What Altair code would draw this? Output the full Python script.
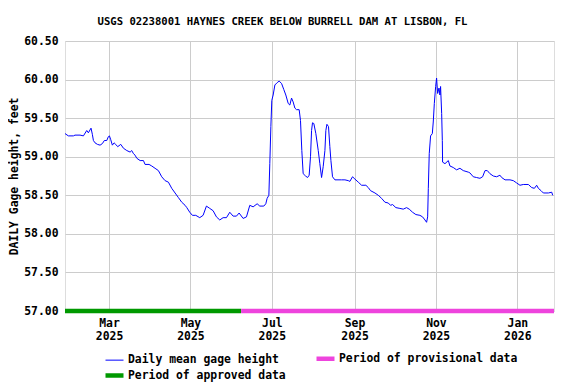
import altair as alt
import pandas as pd

TITLE = "USGS 02238001 HAYNES CREEK BELOW BURRELL DAM AT LISBON, FL"
Y_TITLE = "DAILY Gage height, feet"
START = "2025-01-27"

# days after 2025-01-27 and daily mean gage height (ft)
days = [0, 2.5, 6.3, 7.5, 11.3, 13.8, 16.3, 17.5, 19.5, 20.5, 21.3, 22.5, 24.3, 26.3, 28,
        29.5, 31.3, 32.5, 33.3, 34.3, 35.5, 36.8, 38, 39.5, 41.8, 43.8, 46.3, 48.8, 50, 51.3,
        52.5, 53.8, 56.3, 58.8, 60, 63, 65, 67.5, 70, 72.5, 75, 77.5, 80, 82.5, 85, 87.5, 90,
        91.3, 93.5, 95.5, 98, 101, 103.5, 106, 108.5, 111, 113.5, 116, 118.5, 121, 123.5, 126,
        128.5, 130.5, 133.5, 136, 138.5, 141, 144, 146, 149, 150.5, 151.5, 152.8, 153.5, 154.3,
        155, 156, 157.3, 159, 160.5, 162.3, 164, 165.5, 167.3, 168.5, 169.8, 171, 172.3, 173.5,
        175.5, 176.5, 177.5, 178.5, 180.3, 181.8, 183, 184, 184.8, 185.5, 186.5, 188, 189.8,
        191, 192.3, 193.5, 194.8, 195.5, 196.3, 197.5, 198.5, 199.3, 200.5, 202.3, 207.3,
        209.8, 212.3, 213.5, 215.5, 217.3, 219.8, 222.3, 225.5, 227.3, 229, 232.3, 234.8,
        237.3, 239.8, 242.3, 244, 245.5, 248, 251, 253.5, 256, 258, 260.5, 263, 266, 268,
        269.8, 271, 271.8, 272.3, 273, 274, 275.3, 276, 276.8, 277.8, 278.5, 279.3, 280.3,
        281, 281.5, 282.3, 282.8, 283, 284.8, 287.3, 288.5, 291, 293.5, 296, 298.5, 302.3,
        303.5, 306, 308.5, 311, 313, 314.8, 316.5, 318.5, 321, 323.5, 326, 327.3, 329.8,
        333.5, 336, 338.5, 341, 343.5, 347.3, 349.8, 351.8, 353.5, 354.8, 356.8, 358.5,
        362.3, 364.8, 365.5]
heights = [59.30, 59.27, 59.27, 59.28, 59.28, 59.27, 59.34, 59.31, 59.37, 59.29, 59.21, 59.18,
           59.16, 59.15, 59.17, 59.21, 59.21, 59.26, 59.27, 59.22, 59.15, 59.18, 59.16, 59.13,
           59.16, 59.11, 59.08, 59.06, 59.08, 59.04, 59.02, 58.98, 58.95, 58.95, 58.90, 58.90,
           58.88, 58.85, 58.82, 58.74, 58.69, 58.67, 58.59, 58.53, 58.47, 58.41, 58.37, 58.34,
           58.28, 58.24, 58.24, 58.21, 58.24, 58.36, 58.33, 58.30, 58.22, 58.18, 58.21, 58.21,
           58.28, 58.23, 58.23, 58.27, 58.20, 58.22, 58.37, 58.35, 58.39, 58.36, 58.36, 58.39,
           58.46, 58.50, 58.91, 59.39, 59.73, 59.80, 59.93, 59.96, 59.98, 59.95, 59.87, 59.80,
           59.69, 59.67, 59.76, 59.71, 59.63, 59.61, 59.61, 59.47, 59.08, 58.78, 58.75, 58.73,
           58.76, 59.00, 59.34, 59.44, 59.43, 59.30, 59.08, 58.91, 58.73, 58.87, 59.08, 59.34,
           59.42, 59.39, 59.13, 58.95, 58.74, 58.70, 58.70, 58.70, 58.69, 58.68, 58.74, 58.71,
           58.67, 58.63, 58.63, 58.60, 58.56, 58.53, 58.50, 58.46, 58.41, 58.40, 58.37, 58.38,
           58.34, 58.33, 58.32, 58.34, 58.32, 58.28, 58.25, 58.24, 58.22, 58.18, 58.15, 58.22,
           58.59, 59.04, 59.27, 59.30, 59.45, 59.69, 59.91, 60.02, 59.82, 59.89, 59.80, 59.91,
           59.56, 59.21, 58.93, 58.91, 58.95, 58.88, 58.86, 58.83, 58.85, 58.82, 58.80, 58.79,
           58.74, 58.73, 58.72, 58.74, 58.82, 58.82, 58.78, 58.75, 58.74, 58.76, 58.73, 58.70,
           58.70, 58.69, 58.66, 58.63, 58.64, 58.64, 58.60, 58.59, 58.63, 58.59, 58.56, 58.53,
           58.53, 58.54, 58.50]

# legend entries (filled column by column)
SERIES = ["Daily mean gage height", "Period of approved data", "Period of provisional data"]
COLORS = ["#0000FF", "#009900", "#EE44DD"]
WIDTHS = [1, 4.5, 4.5]

period_names = ["Period of approved data", "Period of provisional data"]
period_start = ["2025-01-27T00:00:00", "2025-06-08T00:00:00"]
period_end = ["2025-06-08T00:00:00", "2026-01-28T12:00:00"]

x_ticks = ["2025-03-01", "2025-05-01", "2025-07-01", "2025-09-01", "2025-11-01", "2026-01-01"]
y_ticks = [57.0, 57.5, 58.0, 58.5, 59.0, 59.5, 60.0, 60.5]

FONT = "DejaVu Sans Mono"

line_df = pd.DataFrame({
    "date": pd.Timestamp(START) + pd.to_timedelta(days, unit="D"),
    "height": heights,
    "series": SERIES[0],
})
period_df = pd.DataFrame({
    "start": pd.to_datetime(period_start, format="ISO8601"),
    "end": pd.to_datetime(period_end, format="ISO8601"),
    "series": period_names,
})


def dt(s):
    t = pd.Timestamp(s)
    return alt.DateTime(year=t.year, month=t.month, date=t.day, hours=t.hour)


x_scale = alt.Scale(domain=[dt("2025-01-27"), dt("2026-01-28T12:00:00")])
y_scale = alt.Scale(domain=[57.0, 60.5], nice=False, zero=False)

color = alt.Color(
    "series:N",
    scale=alt.Scale(domain=SERIES, range=COLORS),
    legend=alt.Legend(
        title=None, orient="none", legendX=43, legendY=311, columns=2,
        symbolType="M-2.25,0H2.25", symbolSize=64, labelFont=FONT, labelFontSize=11.4,
        labelFontWeight="bold", labelColor="black", labelOffset=7, columnPadding=21,
        rowPadding=-2, padding=0, labelLimit=400,
    ),
)
stroke_w = alt.StrokeWidth(
    "series:N",
    scale=alt.Scale(type="ordinal", domain=SERIES, range=WIDTHS),
    legend=None,
)

x_axis = alt.Axis(
    title=None, values=[dt(v) for v in x_ticks], ticks=False, domain=False,
    labelExpr="[timeFormat(datum.value, '%b'), timeFormat(datum.value, '%Y')]",
    labelFont=FONT, labelFontSize=11.4, labelFontWeight="bold", labelColor="black",
    labelLineHeight=13.5, labelPadding=6, gridColor="#cccccc", gridWidth=1,
    labelOverlap=False,
)
y_axis = alt.Axis(
    title=Y_TITLE, values=y_ticks, format=".2f", ticks=False, domain=False,
    labelFont=FONT, labelFontSize=11.4, labelFontWeight="bold", labelColor="black",
    labelPadding=7, titleFont=FONT, titleFontSize=11.4, titleFontWeight="bold",
    titleColor="black", titlePadding=4, gridColor="#cccccc", gridWidth=1,
    labelOverlap=False,
)

line = alt.Chart(line_df).mark_line(interpolate="linear").encode(
    x=alt.X("date:T", scale=x_scale, axis=x_axis),
    y=alt.Y("height:Q", scale=y_scale, axis=y_axis),
    color=color,
    strokeWidth=stroke_w,
)

periods = alt.Chart(period_df).mark_rule(strokeCap="butt").encode(
    x=alt.X("start:T", scale=x_scale, axis=x_axis),
    x2="end:T",
    y=alt.Y(datum=57.0, scale=y_scale, axis=y_axis),
    color=color,
    strokeWidth=stroke_w,
)

chart = alt.layer(line, periods).properties(
    width=489, height=270,
    padding={"left": 0, "top": 9, "right": 0, "bottom": 0},
    title=alt.TitleParams(TITLE, font=FONT, fontSize=10.6, fontWeight="bold",
                          anchor="middle", frame="bounds", offset=7, color="black"),
).configure_view(stroke="black", strokeWidth=1).configure(background="white")

chart.save("out.html", embed_options={"renderer": "svg", "actions": False})
